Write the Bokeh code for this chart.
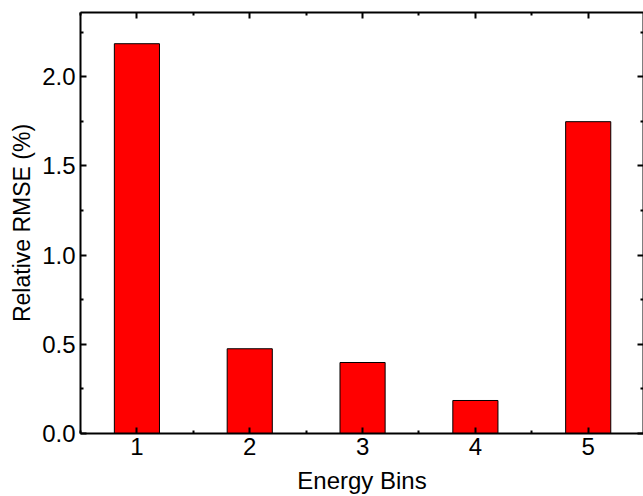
from bokeh.plotting import figure
from bokeh.models import FixedTicker, LinearAxis, NumeralTickFormatter, Range1d, CustomJSTickFormatter
from bokeh.embed import file_html
from bokeh.resources import INLINE

bins = [1, 2, 3, 4, 5]
rmse = [2.185, 0.475, 0.398, 0.185, 1.748]
x_ticks = [1, 2, 3, 4, 5]
x_minor = [0.5, 1.5, 2.5, 3.5, 4.5, 5.5]
y_ticks = [0.0, 0.5, 1.0, 1.5, 2.0]
y_minor = [0.25, 0.75, 1.25, 1.75, 2.25]

FONT = "Liberation Sans"

p = figure(width=643, height=496, output_backend="svg", toolbar_location=None,
           x_range=Range1d(0.5, 5.49), y_range=Range1d(0, 2.36),
           x_axis_location=None, y_axis_location=None,
           min_border_left=80, min_border_right=0, min_border_top=12, min_border_bottom=0)
p.outline_line_color = None
p.xgrid.visible = False
p.ygrid.visible = False
p.background_fill_color = "white"
p.border_fill_color = "white"

p.vbar(x=bins, top=rmse, width=0.4, bottom=0, fill_color="#ff0000",
       line_color="black", line_width=1)

def style(ax, labels):
    ax.axis_line_width = 2
    ax.axis_line_color = "black"
    ax.major_tick_in = 6
    ax.major_tick_out = 0
    ax.minor_tick_in = 3
    ax.minor_tick_out = 0
    ax.major_tick_line_width = 2
    ax.minor_tick_line_width = 2
    if labels:
        ax.major_label_text_font = FONT
        ax.major_label_text_font_size = "24px"
        ax.major_label_text_color = "black"
        ax.axis_label_text_font = FONT
        ax.axis_label_text_font_size = "24px"
        ax.axis_label_text_font_style = "normal"
        ax.axis_label_text_color = "black"
    else:
        ax.formatter = CustomJSTickFormatter(code="return ''")
        ax.major_label_standoff = 0
        ax.axis_label = None

xb = LinearAxis(ticker=FixedTicker(ticks=x_ticks, minor_ticks=x_minor), axis_label="Energy Bins")
style(xb, True)
xb.major_label_standoff = 4
xb.axis_label_standoff = 9
p.add_layout(xb, "below")

yl = LinearAxis(ticker=FixedTicker(ticks=y_ticks, minor_ticks=y_minor),
                axis_label="Relative RMSE (%)", formatter=NumeralTickFormatter(format="0.0"))
style(yl, True)
yl.axis_label_text_font_size = "23px"
yl.major_label_standoff = 5
yl.axis_label_standoff = 4
p.add_layout(yl, "left")

xt = LinearAxis(ticker=FixedTicker(ticks=x_ticks, minor_ticks=x_minor))
style(xt, False)
p.add_layout(xt, "above")

yr = LinearAxis(ticker=FixedTicker(ticks=y_ticks, minor_ticks=y_minor))
style(yr, False)
p.add_layout(yr, "right")

open("out.html", "w").write(file_html(p, INLINE))
